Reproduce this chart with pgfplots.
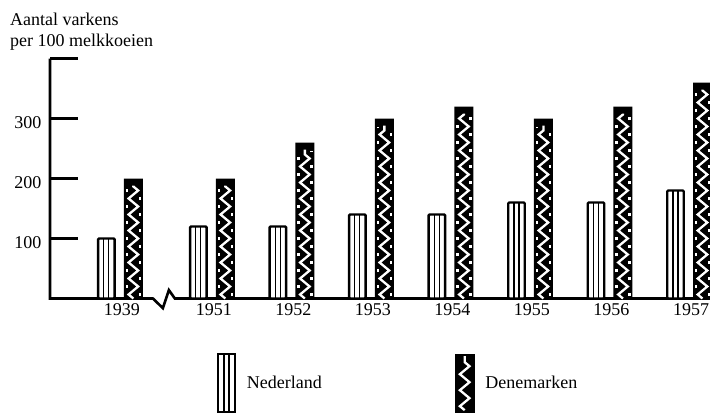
\documentclass[border=0pt]{standalone}
\usepackage{fontspec}
\setmainfont{Liberation Serif}
\usepackage{pgfplots}
\pgfplotsset{compat=1.18}
\usepackage{pgfplotstable}
\usetikzlibrary{decorations.pathmorphing}

\pgfplotstableread{
x      nl   dk
-0.156 100  200
1      120  200
2      120  260
3      140  300
4      140  320
5      160  300
6      160  320
7      180  360
}\data

\newcommand{\cf}{\fontsize{18}{21}\selectfont}

\begin{document}
\begin{tikzpicture}
\useasboundingbox (0pt,0pt) rectangle (710pt,413pt);
\node[anchor=base west, font=\cf, inner sep=0pt] at (10pt,387pt) {Aantal varkens};
\node[anchor=base west, font=\cf, inner sep=0pt] at (10pt,366pt) {per 100 melkkoeien};
\begin{axis}[
  at={(50pt,114.5pt)}, anchor=south west,
  scale only axis, width=660pt, height=240pt,
  xmin=-1.035, xmax=7.264, ymin=0, ymax=400,
  clip=false,
  axis line style={draw=none},
  ytick={100,200,300,400}, yticklabels={100,200,300,{}},
  ytick pos=left,
  tick align=inside,
  major tick length=28pt,
  ytick style={line width=2.2pt, black},
  xtick={-0.156,1,2,3,4,5,6,7},
  xticklabels={1939,1951,1952,1953,1954,1955,1956,1957},
  xtick style={draw=none},
  /pgf/number format/assume math mode=true,
  ticklabel style={font=\cf},
  xticklabel style={yshift=-2pt, xshift=2pt},
  yticklabel style={xshift=-5pt, yshift=-4pt},
  legend columns=2,
  legend cell align=left,
  legend style={draw=none, fill=none, at={(0.253,-0.227)}, anchor=north west,
    inner sep=0pt, outer sep=0pt, font=\cf, nodes={inner sep=0pt},
    /tikz/every odd column/.append style={column sep=11pt}},
]
% axis lines with break
\draw[line width=2.6pt, line join=miter, line cap=butt]
  (axis cs:-1.035,400) -- (axis cs:-1.035,0) -- (axis cs:0.259,0)
  -- (axis cs:0.384,-16) -- (axis cs:0.460,14) -- (axis cs:0.535,0)
  -- (axis cs:7.264,0);
% Nederland
\addplot[ybar, bar width=16.5pt, bar shift=-13.5pt, draw=black, line width=2.4pt,
  fill=white, rounded corners=1pt, forget plot] table[x=x,y=nl]{\data};
\addplot[ybar, bar width=5pt, bar shift=-13.5pt, draw=black, line width=1.1pt,
  fill=none, forget plot] table[x=x,y=nl]{\data};
% Denemarken
\addplot[ybar, bar width=19pt, bar shift=13.5pt, draw=none, fill=black,
  forget plot] table[x=x,y=dk]{\data};
\pgfplotsinvokeforeach{0,...,7}{
\addplot[ycomb, draw=white, line width=2.3pt, mark=none, decorate,
  decoration={zigzag, amplitude=4.8pt, segment length=16pt}, forget plot,
  restrict expr to domain={\coordindex}{#1:#1}]
  table[x expr=\thisrow{x}+0.1696, y expr=\thisrow{dk}-12]{\data};
\addplot[ycomb, draw=white, line width=2.6pt, mark=none,
  dash pattern=on 3pt off 13pt, dash phase=5.5pt, forget plot,
  restrict expr to domain={\coordindex}{#1:#1}]
  table[x expr=\thisrow{x}+0.1696-0.0817, y expr=\thisrow{dk}-14]{\data};
\addplot[ycomb, draw=white, line width=2.6pt, mark=none,
  dash pattern=on 3pt off 13pt, dash phase=13.5pt, forget plot,
  restrict expr to domain={\coordindex}{#1:#1}]
  table[x expr=\thisrow{x}+0.1696+0.0817, y expr=\thisrow{dk}-14]{\data};
}
% legend
\addlegendimage{legend image code/.code={
  \draw[line width=2.4pt, fill=white] (1.2pt,-29pt) rectangle (17.8pt,29pt);
  \draw[line width=1.1pt] (7pt,-29pt)--(7pt,29pt) (12pt,-29pt)--(12pt,29pt);
}}
\addlegendentry{\makebox[208pt][l]{Nederland}}
\addlegendimage{legend image code/.code={
  \fill[black] (0pt,-29pt) rectangle (19pt,29pt);
  \draw[white, line width=2.3pt, decorate,
    decoration={zigzag, amplitude=4.8pt, segment length=16pt}]
    (9.5pt,-27pt) -- (9.5pt,27pt);
}}
\addlegendentry{Denemarken}
\end{axis}
\end{tikzpicture}
\end{document}
